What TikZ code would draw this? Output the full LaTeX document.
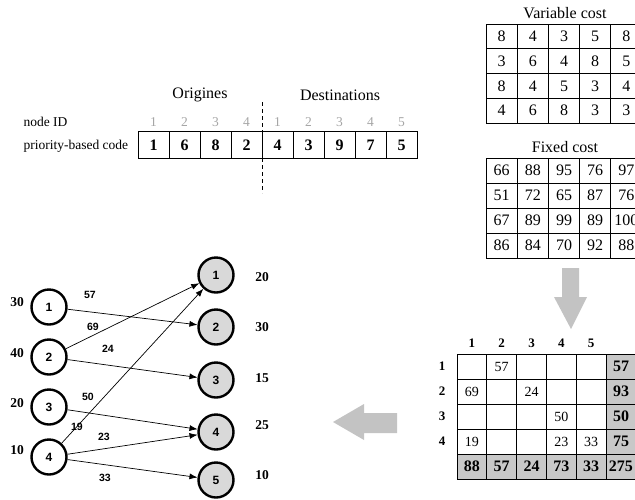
\documentclass[tikz,border=0pt]{standalone}
\usepackage{fontspec}
\setmainfont{Liberation Serif}
\newfontfamily\sansfont{Liberation Sans}
\usetikzlibrary{arrows.meta, positioning, calc}
\definecolor{lightgr}{HTML}{D9D9D9}
\definecolor{cellgr}{HTML}{C8C8C8}
\definecolor{arrowgr}{HTML}{C3C3C3}
\tikzset{
  title/.style = {font=\fontsize{16}{18}\selectfont},
  rowlabel/.style = {anchor=west, font=\fontsize{13.5}{15}\selectfont},
  gene/.style = {text=black!35, font=\fontsize{13.5}{15}\selectfont},
  code/.style = {font=\bfseries\fontsize{16}{18}\selectfont},
  cost/.style = {font=\fontsize{16}{18}\selectfont},
  alloc/.style = {font=\fontsize{14}{16}\selectfont},
  total/.style = {font=\bfseries\fontsize{16}{18}\selectfont},
  head/.style = {font=\bfseries\fontsize{13}{14}\selectfont},
  origin/.style = {circle, draw, line width=2.4pt, minimum size=35pt, inner sep=0pt,
                   font=\sansfont\bfseries\fontsize{12}{13}\selectfont},
  dest/.style = {origin, fill=lightgr},
  flow/.style = {-{Latex[length=8pt,width=6pt]}, line width=0.7pt},
  amount/.style = {font=\bfseries\fontsize{13.5}{15}\selectfont},
  flowval/.style = {font=\sansfont\bfseries\fontsize{10.5}{12}\selectfont},
  bigarrow/.style = {fill=arrowgr, draw=none}
}

\begin{document}
\begin{tikzpicture}[x=1pt, y=-1pt]
\clip (0,0) rectangle (635,499);

% priority-based encoding
\node[title] (orig) at (200,95) {Origines};
\node[title] (dests) at (340,95) {Destinations};
\node[rowlabel] (idlab) at (20,122) {node ID};
\node[rowlabel] (codelab) at (20,146) {priority-based code};
\draw[line width=0.9pt] (138,131) rectangle (417,158);
\foreach \i in {1,...,8} \draw[line width=0.9pt] (138+31*\i,131) -- (138+31*\i,158);
\foreach \v [count=\i] in {1,2,3,4,1,2,3,4,5}
  \node[gene] (id-\i) at ({138+31*(\i-0.5)},122) {\v};
\foreach \v [count=\i] in {1,6,8,2,4,3,9,7,5}
  \node[code] (pc-\i) at ({138+31*(\i-0.5)},145) {\v};
\draw[line width=0.9pt, dash pattern=on 4pt off 3pt] (262,102) -- (262,193);

% cost tables
\node[title] (vctitle) at (565,13) {Variable cost};
\foreach \i in {0,...,5} \draw[line width=1pt] (486+31.2*\i,24) -- (486+31.2*\i,123);
\foreach \j in {0,...,4} \draw[line width=1pt] (486,24+24.75*\j) -- (642,24+24.75*\j);
\foreach \row [count=\r] in {{8,4,3,5,8},{3,6,4,8,5},{8,4,5,3,4},{4,6,8,3,3}}
  \foreach \v [count=\c] in \row
    \node[cost] (vc-\r-\c) at ({486+31.2*(\c-0.5)},{24+24.75*(\r-0.5)}) {\v};

\node[title] (fctitle) at (565,147) {Fixed cost};
\foreach \i in {0,...,5} \draw[line width=1pt] (486+31.2*\i,158) -- (486+31.2*\i,258);
\foreach \j in {0,...,4} \draw[line width=1pt] (486,158+25*\j) -- (642,158+25*\j);
\foreach \row [count=\r] in {{66,88,95,76,97},{51,72,65,87,76},{67,89,99,89,100},{86,84,70,92,88}}
  \foreach \v [count=\c] in \row
    \node[cost] (fc-\r-\c) at ({486+31.2*(\c-0.5)},{158+25*(\r-0.5)}) {\v};

% big arrows
\fill[bigarrow] (562,268) -- (579,268) -- (579,297) -- (587,297) -- (571,329)
  -- (554,297) -- (562,297) -- cycle;
\fill[bigarrow] (397,413) -- (364,413) -- (364,404) -- (333,422) -- (364,440)
  -- (364,433) -- (397,433) -- cycle;

% allocation table
\fill[cellgr] (606,354) rectangle (636,479);
\fill[cellgr] (457,454) rectangle (636,479);
\foreach \i in {0,...,6} \draw[line width=1pt] (457+29.8*\i,354) -- (457+29.8*\i,479);
\foreach \j in {0,...,5} \draw[line width=1pt] (457,354+25*\j) -- (636,354+25*\j);
\foreach \c in {1,...,5}
  \node[head] (col-\c) at ({457+29.8*(\c-0.5)},343) {\c};
\foreach \r in {1,...,4}
  \node[head] (row-\r) at (442,{354+25*(\r-0.5)}) {\r};
\foreach \r/\c/\v in {1/2/57, 2/1/69, 2/3/24, 3/4/50, 4/1/19, 4/4/23, 4/5/33}
  \node[alloc] (al-\r-\c) at ({457+29.8*(\c-0.5)},{354+25*(\r-0.5)}) {\v};
\foreach \r/\v in {1/57, 2/93, 3/50, 4/75}
  \node[total] (rs-\r) at (621,{354+25*(\r-0.5)}) {\v};
\foreach \v [count=\c] in {88,57,24,73,33,275}
  \node[total] (cs-\c) at ({457+29.8*(\c-0.5)},466.5) {\v};

% transportation network
\node[origin] (o1) at (49,307) {1};
\node[origin] (o2) at (49,357) {2};
\node[origin] (o3) at (49,407) {3};
\node[origin] (o4) at (49,457) {4};
\node[dest] (d1) at (216,275) {1};
\node[dest] (d2) at (216,327) {2};
\node[dest] (d3) at (216,380) {3};
\node[dest] (d4) at (216,432) {4};
\node[dest] (d5) at (216,480) {5};

\foreach \n/\y/\v in {1/302/30, 2/353/40, 3/403/20, 4/450/10}
  \node[amount] (sup-\n) at (17,\y) {\v};
\foreach \n/\y/\v in {1/277/20, 2/327/30, 3/378/15, 4/425/25, 5/475/10}
  \node[amount] (dem-\n) at (262,\y) {\v};

\draw[flow] (o1) -- (d2);
\draw[flow] (o2) -- (d1);
\draw[flow] (o2) -- (d3);
\draw[flow] (o3) -- (d4);
\draw[flow] (o4) -- (d1);
\draw[flow] (o4) -- (d4);
\draw[flow] (o4) -- (d5);

\node[flowval] (f12) at (90,295) {57};
\node[flowval] (f21) at (93,327) {69};
\node[flowval] (f23) at (108,349) {24};
\node[flowval] (f34) at (88,397) {50};
\node[flowval] (f41) at (77,427) {19};
\node[flowval] (f44) at (104,437) {23};
\node[flowval] (f45) at (105,478) {33};
\end{tikzpicture}
\end{document}
